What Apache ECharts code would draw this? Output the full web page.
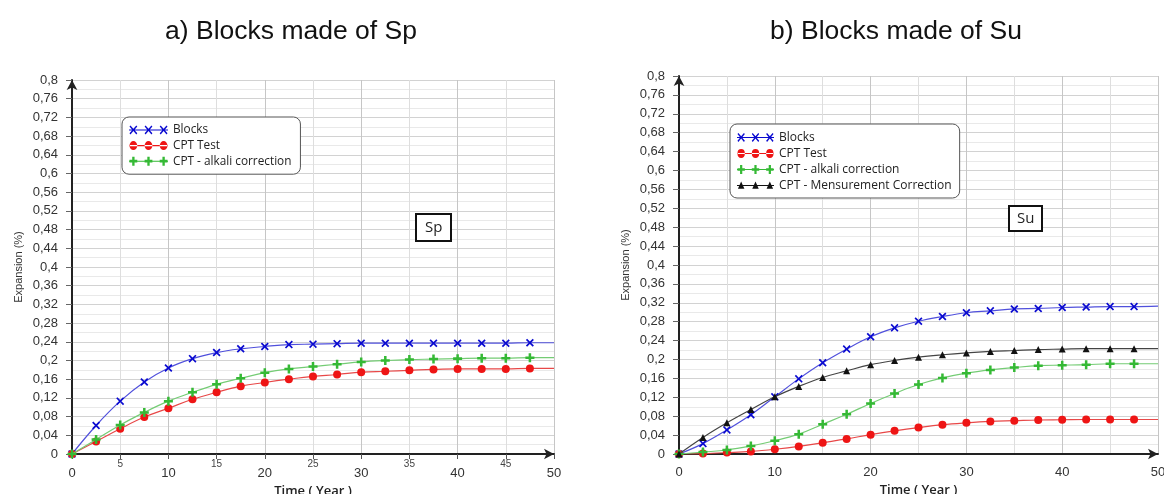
<!DOCTYPE html>
<html>
<head>
<meta charset="utf-8">
<script src="https://cdn.jsdelivr.net/npm/echarts/dist/echarts.min.js"></script>
<style>
html,body{margin:0;padding:0;background:#fff;}
#c{width:1164px;height:494px;}
</style>
</head>
<body>
<div id="c"></div>
<script>
// ---- data ----
const years = [0, 2.5, 5, 7.5, 10, 12.5, 15, 17.5, 20, 22.5, 25, 27.5, 30, 32.5, 35, 37.5, 40, 42.5, 45, 47.5, 50];

const spBlocks  = [0, 0.061, 0.113, 0.154, 0.184, 0.204, 0.217, 0.225, 0.230, 0.234, 0.235, 0.236, 0.237, 0.237, 0.237, 0.237, 0.237, 0.237, 0.237, 0.238, 0.238];
const spCpt     = [0, 0.027, 0.054, 0.079, 0.098, 0.117, 0.132, 0.145, 0.153, 0.160, 0.166, 0.170, 0.175, 0.177, 0.179, 0.181, 0.182, 0.182, 0.182, 0.183, 0.183];
const spAlkali  = [0, 0.031, 0.062, 0.089, 0.113, 0.132, 0.149, 0.162, 0.174, 0.182, 0.187, 0.192, 0.197, 0.200, 0.202, 0.203, 0.204, 0.205, 0.205, 0.206, 0.206];

const suBlocks  = [0, 0.022, 0.051, 0.083, 0.121, 0.159, 0.193, 0.222, 0.248, 0.267, 0.281, 0.291, 0.299, 0.303, 0.307, 0.308, 0.310, 0.311, 0.312, 0.312, 0.313];
const suCpt     = [0, 0.001, 0.003, 0.0055, 0.010, 0.016, 0.024, 0.032, 0.041, 0.049, 0.056, 0.062, 0.066, 0.069, 0.0705, 0.072, 0.0725, 0.073, 0.073, 0.073, 0.073];
const suAlkali  = [0, 0.004, 0.0085, 0.017, 0.028, 0.042, 0.063, 0.084, 0.107, 0.128, 0.147, 0.161, 0.171, 0.178, 0.183, 0.187, 0.188, 0.189, 0.191, 0.191, 0.191];
const suMeas    = [0, 0.035, 0.066, 0.094, 0.121, 0.143, 0.162, 0.176, 0.189, 0.198, 0.205, 0.210, 0.214, 0.217, 0.219, 0.221, 0.222, 0.223, 0.223, 0.223, 0.223];

const names = ['Blocks', 'CPT Test', 'CPT - alkali correction', 'CPT - Mensurement Correction'];
const titles = ['a) Blocks made of Sp', 'b) Blocks made of Su'];
const boxLabels = ['Sp', 'Su'];
const xName = 'Time ( Year )';
const yName = 'Expansion (%)';

// ---- styles ----
const markerColor = ['#0a0ad0', '#ee1515', '#35b935', '#111111'];
const lineColor   = ['#5050dc', '#e84848', '#74cc74', '#444444'];
const X_PATH = 'path://M0,1.5 L1.5,0 L5,3.5 L8.5,0 L10,1.5 L6.5,5 L10,8.5 L8.5,10 L5,6.5 L1.5,10 L0,8.5 L3.5,5 Z';
const PLUS_PATH = 'path://M3.6,0 H6.4 V3.6 H10 V6.4 H6.4 V10 H3.6 V6.4 H0 V3.6 H3.6 Z';
const symbols = [X_PATH, 'circle', PLUS_PATH, 'triangle'];
const symSizes = [8, 8, 9, 7];

function shapeAt(kind, cx, cy) {
  const f = n => n.toFixed(2);
  if (kind === 0) {
    return `M${f(cx-4)},${f(cy-3)} L${f(cx-3)},${f(cy-4)} L${f(cx)},${f(cy-1)} L${f(cx+3)},${f(cy-4)} L${f(cx+4)},${f(cy-3)} L${f(cx+1)},${f(cy)} L${f(cx+4)},${f(cy+3)} L${f(cx+3)},${f(cy+4)} L${f(cx)},${f(cy+1)} L${f(cx-3)},${f(cy+4)} L${f(cx-4)},${f(cy+3)} L${f(cx-1)},${f(cy)} Z `;
  } else if (kind === 1) {
    return `M${f(cx-4)},${f(cy)} A4,4 0 1,0 ${f(cx+4)},${f(cy)} A4,4 0 1,0 ${f(cx-4)},${f(cy)} Z `;
  } else if (kind === 2) {
    return `M${f(cx-1.2)},${f(cy-4)} H${f(cx+1.2)} V${f(cy-1.2)} H${f(cx+4)} V${f(cy+1.2)} H${f(cx+1.2)} V${f(cy+4)} H${f(cx-1.2)} V${f(cy+1.2)} H${f(cx-4)} V${f(cy-1.2)} H${f(cx-1.2)} Z `;
  }
  return `M${f(cx)},${f(cy-3.5)} L${f(cx+3.5)},${f(cy+3)} L${f(cx-3.5)},${f(cy+3)} Z `;
}
function legendIcon(kind) {
  let p = 'path://M0,1 L0.01,1 L0,1.01 Z M0,9 L0.01,9 L0,9.01 Z M0,4.5 L40,4.5 L40,5.5 L0,5.5 Z ';
  [4.5, 20, 35.5].forEach(cx => { p += shapeAt(kind, cx, 5); });
  return p;
}

function fmtY(v) {
  return String(parseFloat(v.toFixed(2))).replace('.', ',');
}

function makeSeries(name, idx, values, gi) {
  return {
    name: name,
    type: 'line',
    xAxisIndex: gi,
    yAxisIndex: gi,
    smooth: 0.4,
    symbol: symbols[idx],
    symbolSize: symSizes[idx],
    showAllSymbol: true,
    itemStyle: { color: markerColor[idx] },
    lineStyle: { color: lineColor[idx], width: 1.2 },
    emphasis: { disabled: true },
    z: 3 + idx,
    data: years.map((x, i) => x === 50 ? { value: [x, values[i]], symbol: 'none' } : [x, values[i]])
  };
}

const fontMain = 'Liberation Sans, Arial, sans-serif';
const fontLegend = 'Open Sans, Noto Sans, sans-serif';

function yAxis(gi) {
  return {
    type: 'value', gridIndex: gi, min: 0, max: 0.8, interval: 0.04,
    axisLine: { show: true, onZero: false, symbol: ['none', 'arrow'], symbolSize: [8, 10], lineStyle: { color: '#222', width: 2 } },
    axisTick: { show: true, length: 6, lineStyle: { color: '#666' } },
    axisLabel: { formatter: fmtY, fontSize: 13, color: '#333', margin: 14, fontFamily: fontMain },
    splitLine: { show: true, lineStyle: { color: '#d2d2d2', width: 1 } },
    minorTick: { show: false, splitNumber: 2 },
    minorSplitLine: { show: true, lineStyle: { color: '#e9e9e9', width: 1 } },
    name: yName, nameLocation: 'middle', nameGap: 48,
    nameTextStyle: { fontSize: 11, color: '#333', fontFamily: fontMain }
  };
}

const option = {
  backgroundColor: '#ffffff',
  animation: false,
  title: [
    { text: titles[0], left: 291, top: 18, textAlign: 'center', padding: 0,
      textStyle: { fontSize: 26.5, fontWeight: 'normal', color: '#111', fontFamily: fontMain } },
    { text: titles[1], left: 896, top: 18, textAlign: 'center', padding: 0,
      textStyle: { fontSize: 26.5, fontWeight: 'normal', color: '#111', fontFamily: fontMain } },
    { text: boxLabels[0], left: 416, top: 214, padding: [6, 9, 6, 9], borderWidth: 2, borderColor: '#111', backgroundColor: '#fff',
      textStyle: { fontSize: 15, fontWeight: 'normal', color: '#222', fontFamily: fontLegend } },
    { text: boxLabels[1], left: 1009, top: 206, padding: [5, 8, 5, 8], borderWidth: 2, borderColor: '#111', backgroundColor: '#fff',
      textStyle: { fontSize: 15, fontWeight: 'normal', color: '#222', fontFamily: fontLegend } }
  ],
  legend: [
    { orient: 'vertical', left: 122, top: 117, selectedMode: false,
      backgroundColor: '#fff', borderColor: '#555', borderWidth: 1, borderRadius: 7,
      padding: [7, 9, 7, 7], itemWidth: 39, itemHeight: 9, itemGap: 3.6,
      symbolKeepAspect: false,
      textStyle: { fontSize: 11.8, lineHeight: 12, color: '#222', fontFamily: fontLegend },
      data: names.slice(0, 3).map((n, i) => ({ name: n, icon: legendIcon(i), itemStyle: { color: markerColor[i] } })) },
    { orient: 'vertical', left: 730, top: 124, selectedMode: false,
      backgroundColor: '#fff', borderColor: '#555', borderWidth: 1, borderRadius: 7,
      padding: [7, 8, 6, 7], itemWidth: 37, itemHeight: 9, itemGap: 3,
      symbolKeepAspect: false,
      textStyle: { fontSize: 12, lineHeight: 13, color: '#222', fontFamily: fontLegend },
      data: names.map((n, i) => ({ name: n, icon: legendIcon(i), itemStyle: { color: markerColor[i] } })) }
  ],
  grid: [
    { left: 72, right: 610, top: 80, bottom: 40, outerBoundsMode: 'none', containLabel: false },
    { left: 679, right: 6, top: 76, bottom: 40, outerBoundsMode: 'none', containLabel: false }
  ],
  xAxis: [
    { type: 'value', gridIndex: 0, min: 0, max: 50, interval: 5,
      axisLine: { show: true, onZero: false, symbol: ['none', 'arrow'], symbolSize: [8, 10], lineStyle: { color: '#222', width: 2 } },
      axisTick: { show: true, length: 5, lineStyle: { color: '#555' } },
      axisLabel: {
        margin: 5,
        formatter: v => (v % 10 === 0 ? '{b|' + v + '}' : '{a|' + v + '}'),
        rich: {
          a: { fontSize: 10, color: '#444', fontFamily: fontMain, padding: [0, 0, 0, 0] },
          b: { fontSize: 13, color: '#333', fontFamily: fontMain, padding: [8, 0, 0, 0] }
        }
      },
      splitLine: { show: true, lineStyle: { color: ['#c6c6c6', '#dedede'], width: 1 } },
      name: xName, nameLocation: 'middle', nameGap: 25,
      nameTextStyle: { fontSize: 13, fontWeight: 600, color: '#222', fontFamily: fontLegend }
    },
    { type: 'value', gridIndex: 1, min: 0, max: 50, interval: 10,
      axisLine: { show: true, onZero: false, symbol: ['none', 'arrow'], symbolSize: [8, 10], lineStyle: { color: '#222', width: 2 } },
      axisTick: { show: false },
      axisLabel: { margin: 12, fontSize: 13, color: '#333', fontFamily: fontMain },
      splitLine: { show: true, lineStyle: { color: '#c6c6c6', width: 1 } },
      minorTick: { show: false, splitNumber: 2 },
      minorSplitLine: { show: true, lineStyle: { color: '#dedede', width: 1 } },
      name: xName, nameLocation: 'middle', nameGap: 25,
      nameTextStyle: { fontSize: 13, fontWeight: 600, color: '#222', fontFamily: fontLegend }
    }
  ],
  yAxis: [yAxis(0), yAxis(1)],
  series: [
    makeSeries(names[0], 0, spBlocks, 0),
    makeSeries(names[1], 1, spCpt, 0),
    makeSeries(names[2], 2, spAlkali, 0),
    makeSeries(names[0], 0, suBlocks, 1),
    makeSeries(names[1], 1, suCpt, 1),
    makeSeries(names[2], 2, suAlkali, 1),
    makeSeries(names[3], 3, suMeas, 1)
  ]
};

const chart = echarts.init(document.getElementById('c'), null, { renderer: 'canvas' });
chart.setOption(option);
</script>
</body>
</html>
